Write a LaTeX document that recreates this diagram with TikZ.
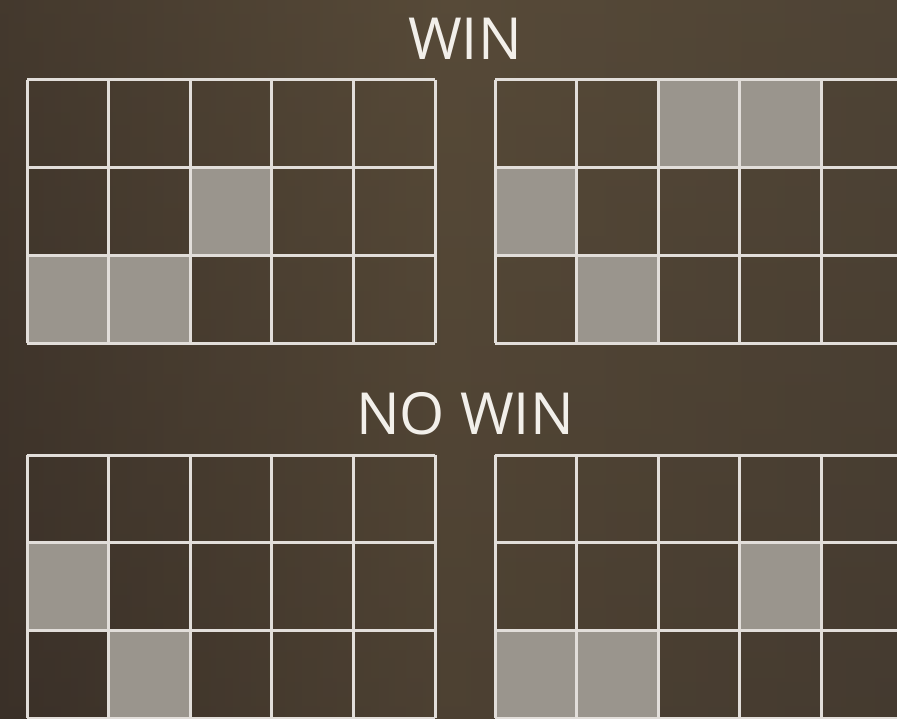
\documentclass[tikz,border=0pt]{standalone}
\usepackage{fontspec}
\setmainfont{Open Sans}
\definecolor{bgA}{HTML}{3A3028}
\definecolor{bgB}{HTML}{574A38}
\definecolor{bgC}{HTML}{4A4034}
\definecolor{lineC}{HTML}{E2DEDA}
\definecolor{litC}{HTML}{9A958D}
\definecolor{txtC}{HTML}{F2EFEA}
\tikzset{
  gridline/.style={draw=lineC, line width=3pt},
  litcell/.style={fill=litC},
  title/.style={text=txtC, font=\fontsize{58}{60}\selectfont, inner sep=0pt, anchor=base}
}
\newcommand{\mygrid}[6]{% name, x0, y0 (top), cw, rh, lit list
  \foreach \c/\r in {#6}{
    \fill[litcell] ({#2+(\c-1)*#4},{-(#3+(\r-1)*#5)}) rectangle ++(#4,-#5);
  }
  \foreach \i in {0,...,5}{
    \draw[gridline] ({#2+\i*#4},{-#3}) -- ({#2+\i*#4},{-(#3+3*#5)});
  }
  \foreach \j in {0,...,3}{
    \draw[gridline] ({#2},{-(#3+\j*#5)}) -- ({#2+5*#4},{-(#3+\j*#5)});
  }
}
\begin{document}
\begin{tikzpicture}[x=1pt,y=1pt]
\useasboundingbox (0,0) rectangle (897,-719);
\shade[left color=bgA, right color=bgC, middle color=bgB] (0,0) rectangle (897,-719);
\shade[top color=bgB, bottom color=bgA, opacity=0.35] (0,0) rectangle (897,-719);
\node[title] (win) at (465,-60) {WIN};
\node[title] (nowin) at (465,-434) {NO WIN};
\mygrid{tl}{27}{80}{81.6}{87.7}{3/2,1/3,2/3}
\mygrid{tr}{495}{80}{81.6}{87.7}{3/1,4/1,1/2,2/3}
\mygrid{bl}{27}{455}{81.6}{87.7}{1/2,2/3}
\mygrid{br}{495}{455}{81.6}{87.7}{4/2,1/3,2/3}
\end{tikzpicture}
\end{document}
